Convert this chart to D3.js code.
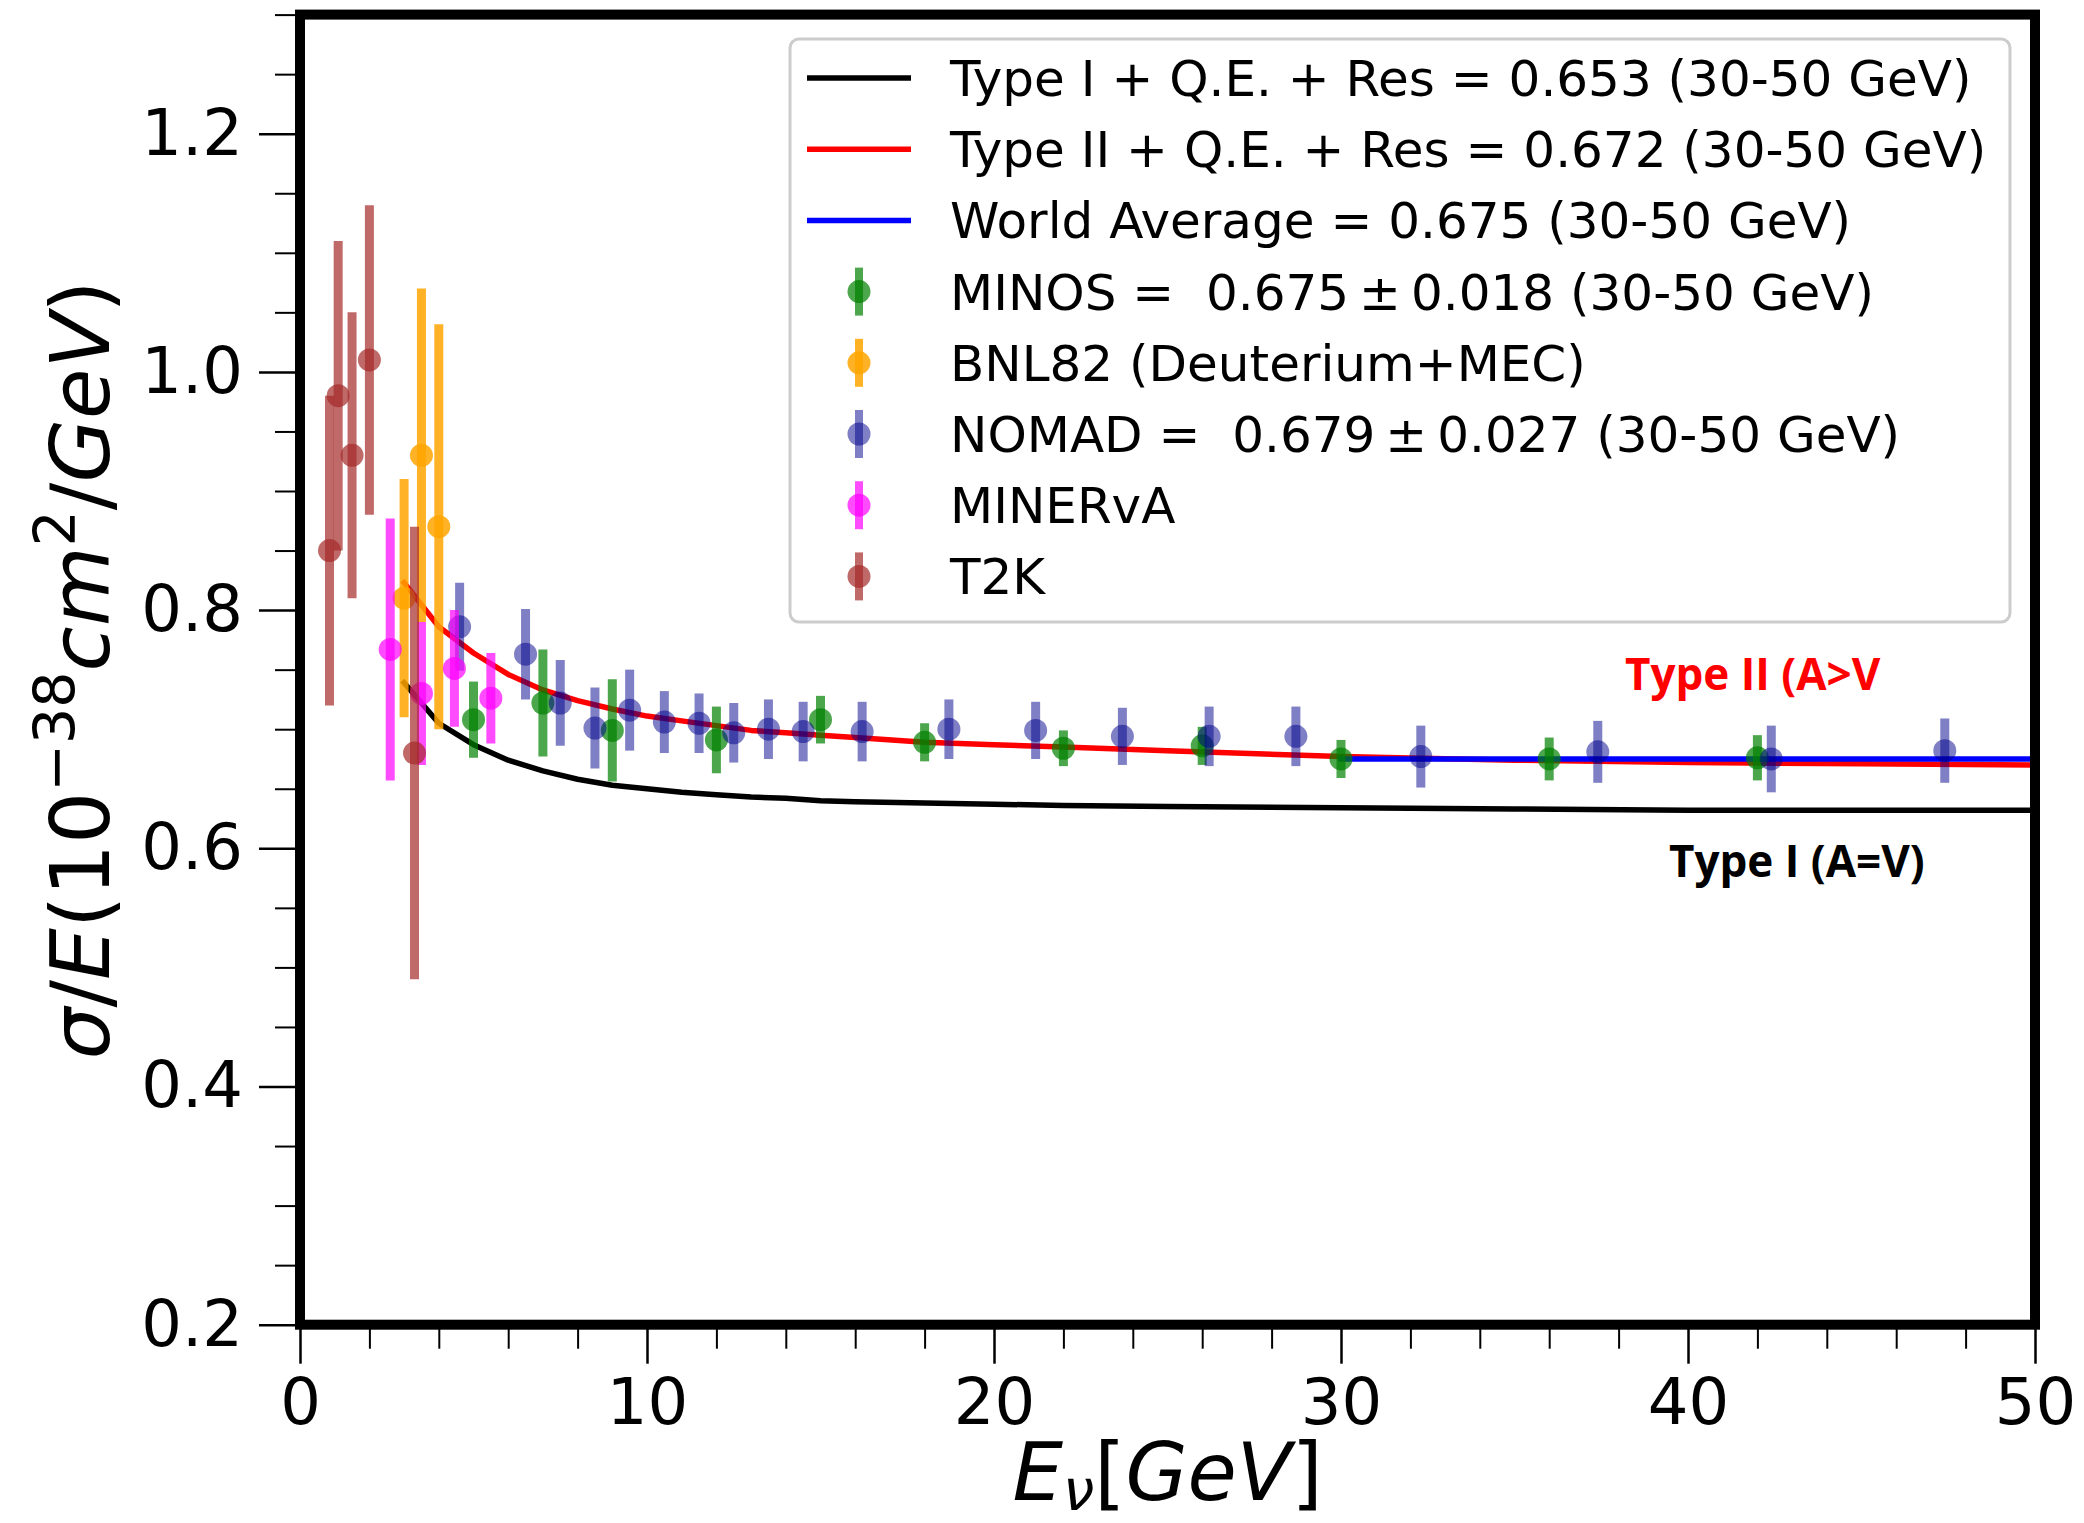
<!DOCTYPE html>
<html>
<head>
<meta charset="utf-8">
<script src="https://cdn.jsdelivr.net/npm/d3@7"></script>
<style>
    body { margin: 0; background: #fff; }
    text { font-family: "DejaVu Sans", sans-serif; white-space: pre; }
</style>
</head>
<body>
<svg id="chart" width="2084" height="1523"></svg>
<script>

// model curves
let curveEnergy = [3, 4, 5, 6, 7, 8, 9, 10, 11, 12, 13, 14, 15, 16, 18, 20, 22, 25, 30, 35, 40, 45, 50];
let typeOneValues = [0.739, 0.705, 0.687, 0.674, 0.665, 0.658, 0.653, 0.650, 0.647, 0.645, 0.643, 0.642, 0.640, 0.639, 0.638, 0.637, 0.636, 0.635, 0.634, 0.633, 0.632, 0.632, 0.632];
let typeTwoValues = [0.823, 0.786, 0.764, 0.746, 0.733, 0.724, 0.717, 0.711, 0.707, 0.703, 0.699, 0.697, 0.695, 0.693, 0.689, 0.687, 0.685, 0.682, 0.677, 0.674, 0.672, 0.671, 0.670];
let worldAvgEnergy = [30, 50];
let worldAvgValues = [0.675, 0.675];

// experiments
let minosEnergy = [5.0, 7.0, 9.0, 12.0, 15.0, 18.0, 22.0, 26.0, 30.0, 36.0, 42.0];
let minosValues = [0.708, 0.722, 0.699, 0.691, 0.708, 0.689, 0.684, 0.686, 0.675, 0.675, 0.676];
let minosErrors = [0.032, 0.045, 0.043, 0.028, 0.020, 0.016, 0.015, 0.016, 0.016, 0.018, 0.019];

let bnlEnergy = [3.0, 3.5, 4.0];
let bnlValues = [0.810, 0.930, 0.870];
let bnlErrors = [0.10, 0.14, 0.17];

let nomadEnergy = [4.6, 6.5, 7.5, 8.5, 9.5, 10.5, 11.5, 12.5, 13.5, 14.5, 16.2, 18.7, 21.2, 23.7, 26.2, 28.7, 32.3, 37.4, 42.4, 47.4];
let nomadValues = [0.786, 0.763, 0.722, 0.701, 0.716, 0.706, 0.705, 0.697, 0.700, 0.698, 0.698, 0.700, 0.699, 0.694, 0.694, 0.694, 0.677, 0.681, 0.675, 0.682];
let nomadErrors = [0.037, 0.038, 0.036, 0.034, 0.034, 0.026, 0.025, 0.025, 0.025, 0.025, 0.025, 0.025, 0.024, 0.024, 0.025, 0.025, 0.026, 0.026, 0.028, 0.027];

let minervaEnergy = [2.6, 3.5, 4.45, 5.5];
let minervaValues = [0.767, 0.730, 0.751, 0.726];
let minervaErrors = [0.11, 0.06, 0.049, 0.038];

let t2kEnergy = [0.85, 1.1, 1.5, 2.0, 3.3];
let t2kValues = [0.850, 0.980, 0.930, 1.010, 0.680];
let t2kErrors = [0.13, 0.13, 0.12, 0.13, 0.19];

let xTicks = [0, 10, 20, 30, 40, 50];
let yTicks = [0.2, 0.4, 0.6, 0.8, 1.0, 1.2];

let lineLabels = [
    "Type I + Q.E. + Res = 0.653 (30-50 GeV)",
    "Type II + Q.E. + Res = 0.672 (30-50 GeV)",
    "World Average = 0.675 (30-50 GeV)"
];
let pointLabels = [
    "MINOS =  0.675\u2009\u00b1\u20090.018 (30-50 GeV)",
    "BNL82 (Deuterium+MEC)",
    "NOMAD =  0.679\u2009\u00b1\u20090.027 (30-50 GeV)",
    "MINERvA",
    "T2K"
];
let annotationTexts = ["Type II (A>V", "Type I (A=V)"];

let svg = d3.select("#chart");

let x = d3.scaleLinear().domain([0, 50]).range([300, 2035]),
    y = d3.scaleLinear().domain([0.2, 1.3]).range([1324.7, 14.6]);

let xMinor = d3.range(0, 51, 2).filter(function (d) { return d % 10 !== 0; });
let yMinor = d3.range(5, 27).map(function (d) { return d / 20; }).filter(function (d) {
    return Math.abs(d * 5 - Math.round(d * 5)) > 1e-6;
});

// axes
function styleAxis(g, size) {
    g.select(".domain").remove();
    g.attr("font-family", "DejaVu Sans").attr("font-size", 64);
    g.selectAll(".tick line").attr("stroke", "#000").attr("stroke-width", size);
    g.selectAll(".tick text").attr("fill", "#000");
}

svg.append("g")
    .attr("transform", "translate(300,0)")
    .call(d3.axisLeft(y).tickValues(yMinor).tickSize(25).tickFormat(""))
    .call(function (g) { styleAxis(g, 2); });

svg.append("g")
    .attr("transform", "translate(300,0)")
    .call(d3.axisLeft(y).tickValues(yTicks).tickSize(41).tickPadding(16).tickFormat(d3.format(".1f")))
    .call(function (g) { styleAxis(g, 2.5); });

svg.append("g")
    .attr("transform", "translate(0,1324.7)")
    .call(d3.axisBottom(x).tickValues(xMinor).tickSize(24).tickFormat(""))
    .call(function (g) { styleAxis(g, 2); });

svg.append("g")
    .attr("transform", "translate(0,1324.7)")
    .call(d3.axisBottom(x).tickValues(xTicks).tickSize(39).tickPadding(15).tickFormat(d3.format("d")))
    .call(function (g) { styleAxis(g, 2.5); });

// curves
let line = d3.line()
    .x(function (d) { return x(d[0]); })
    .y(function (d) { return y(d[1]); });

let curves = [
    {color: "#000000", pts: d3.zip(curveEnergy, typeOneValues)},
    {color: "#ff0000", pts: d3.zip(curveEnergy, typeTwoValues)},
    {color: "#0000ff", pts: d3.zip(worldAvgEnergy, worldAvgValues)}
];

svg.selectAll(".curve")
    .data(curves)
    .enter().append("path")
    .attr("class", "curve")
    .attr("d", function (d) { return line(d.pts); })
    .attr("fill", "none")
    .attr("stroke", function (d) { return d.color; })
    .attr("stroke-width", 5.5)
    .attr("stroke-linecap", "square")
    .attr("stroke-linejoin", "round");

// error bars
let experiments = [
    {color: "#008000", alpha: 0.7, e: minosEnergy, v: minosValues, err: minosErrors},
    {color: "#ffa500", alpha: 0.85, e: bnlEnergy, v: bnlValues, err: bnlErrors},
    {color: "#00008b", alpha: 0.5, e: nomadEnergy, v: nomadValues, err: nomadErrors},
    {color: "#ff00ff", alpha: 0.7, e: minervaEnergy, v: minervaValues, err: minervaErrors},
    {color: "#a52a2a", alpha: 0.7, e: t2kEnergy, v: t2kValues, err: t2kErrors}
];

experiments.forEach(function (exp) {
    let pts = exp.e.map(function (en, i) {
        return {en: en, val: exp.v[i], err: exp.err[i]};
    });
    let grp = svg.append("g").attr("class", "experiment");
    grp.selectAll("line")
        .data(pts)
        .enter().append("line")
        .attr("x1", function (d) { return x(d.en); })
        .attr("x2", function (d) { return x(d.en); })
        .attr("y1", function (d) { return y(d.val - d.err); })
        .attr("y2", function (d) { return y(d.val + d.err); })
        .attr("stroke", exp.color)
        .attr("stroke-opacity", exp.alpha)
        .attr("stroke-width", 9);
    grp.selectAll("circle")
        .data(pts)
        .enter().append("circle")
        .attr("cx", function (d) { return x(d.en); })
        .attr("cy", function (d) { return y(d.val); })
        .attr("r", 11.5)
        .attr("fill", exp.color)
        .attr("fill-opacity", exp.alpha);
});

// frame
svg.append("rect")
    .attr("x", x(0)).attr("y", y(1.3))
    .attr("width", x(50) - x(0)).attr("height", y(0.2) - y(1.3))
    .attr("fill", "none").attr("stroke", "#000").attr("stroke-width", 10);

// annotations
svg.append("text")
    .attr("x", 1625).attr("y", 690)
    .style("font-family", "'Open Sans', sans-serif")
    .attr("font-weight", 700).attr("font-size", 44)
    .attr("fill", "#ff0000")
    .text(annotationTexts[0]);

svg.append("text")
    .attr("x", 1669).attr("y", 877)
    .style("font-family", "'Open Sans', sans-serif")
    .attr("font-weight", 700).attr("font-size", 44)
    .attr("fill", "#000")
    .text(annotationTexts[1]);

// legend
let legend = svg.append("g").attr("class", "legend");
legend.append("rect")
    .attr("x", 790).attr("y", 39).attr("width", 1220).attr("height", 583).attr("rx", 9)
    .attr("fill", "#fff").attr("fill-opacity", 0.8)
    .attr("stroke", "#cccccc").attr("stroke-width", 3);

let rowY = function (i) { return 78 + i * 71.2; };

curves.forEach(function (c, i) {
    legend.append("line")
        .attr("x1", 807).attr("x2", 911)
        .attr("y1", rowY(i)).attr("y2", rowY(i))
        .attr("stroke", c.color).attr("stroke-width", 5.5);
    legend.append("text")
        .attr("x", 950).attr("y", rowY(i) + 18)
        .attr("font-size", 50)
        .text(lineLabels[i]);
});

experiments.forEach(function (exp, j) {
    let i = j + 3;
    legend.append("line")
        .attr("x1", 859).attr("x2", 859)
        .attr("y1", rowY(i) - 24).attr("y2", rowY(i) + 24)
        .attr("stroke", exp.color).attr("stroke-opacity", exp.alpha).attr("stroke-width", 8);
    legend.append("circle")
        .attr("cx", 859).attr("cy", rowY(i)).attr("r", 11.5)
        .attr("fill", exp.color).attr("fill-opacity", exp.alpha);
    legend.append("text")
        .attr("x", 950).attr("y", rowY(i) + 18)
        .attr("font-size", 50)
        .text(pointLabels[j]);
});

// axis labels
let ylab = svg.append("text")
    .attr("transform", "translate(109,670) rotate(-90)")
    .attr("text-anchor", "middle")
    .attr("font-size", 82);
ylab.append("tspan").attr("font-style", "italic").text("\u03c3");
ylab.append("tspan").text("/");
ylab.append("tspan").attr("font-style", "italic").text("E");
ylab.append("tspan").text("(10");
ylab.append("tspan").attr("font-size", 57).attr("dy", -34).text("\u221238");
ylab.append("tspan").attr("font-style", "italic").attr("dy", 34).text("cm");
ylab.append("tspan").attr("font-size", 57).attr("dy", -34).text("2");
ylab.append("tspan").attr("dy", 34).text("/");
ylab.append("tspan").attr("font-style", "italic").text("GeV");
ylab.append("tspan").text(")");

let xlab = svg.append("text")
    .attr("x", x(25)).attr("y", 1500)
    .attr("text-anchor", "middle")
    .attr("font-size", 80);
xlab.append("tspan").attr("font-style", "italic").text("E");
xlab.append("tspan").attr("font-style", "italic").attr("font-size", 56).attr("dy", 10).text("\u03bd");
xlab.append("tspan").attr("dy", -10).text("[");
xlab.append("tspan").attr("font-style", "italic").text("GeV");
xlab.append("tspan").text("]");

</script>
</body>
</html>
